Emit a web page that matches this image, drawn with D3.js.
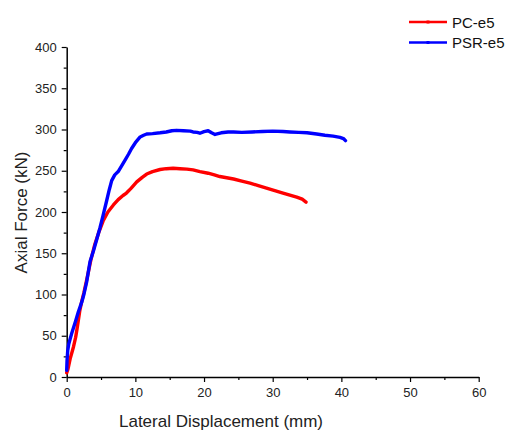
<!DOCTYPE html>
<html>
<head>
<meta charset="utf-8">
<script src="https://cdn.jsdelivr.net/npm/d3@7"></script>
<style>
  html, body { margin: 0; padding: 0; background: #fff; }
  svg { display: block; font-family: "Liberation Sans", Arial, sans-serif; }
</style>
</head>
<body>
<svg id="chart" width="514" height="432"></svg>
<script>
// Series names
const seriesNames = ["PC-e5", "PSR-e5"];
const seriesColors = ["#ff0000", "#0000ff"];

// PC-e5: lateral displacement (mm) and axial force (kN)
const pcX = [0, 0.2, 0.5, 0.8, 1.0, 1.3, 1.5, 1.9, 2.2, 2.5, 3.0, 3.5, 4.1, 4.7, 5.3, 6.0, 6.8, 7.5, 8.2, 8.7, 9.4, 10.2, 11.0, 11.65, 12.5, 13.6, 14.5, 15.5, 16.5, 17.5, 18.4, 19.4, 20.6, 21.5, 22.3, 23.3, 24.3, 25.5, 26.7, 27.9, 29.1, 30.3, 31.5, 32.5, 33.5, 34.3, 34.85];
const pcY = [5, 10, 22, 31, 37, 48, 58, 80, 92, 102, 121, 141, 161, 176, 189, 200, 208.5, 215, 220, 223, 229, 236.5, 242, 246, 249, 251.5, 252.5, 253, 252.5, 252, 251, 249, 247, 245, 243, 241.5, 240, 237.5, 235, 232, 229, 226, 223, 220.5, 218, 215.5, 212];

// PSR-e5: lateral displacement (mm) and axial force (kN)
const psrX = [0, 0.05, 0.15, 0.3, 0.5, 0.7, 1.0, 1.3, 1.7, 2.2, 2.5, 2.9, 3.4, 3.9, 4.35, 4.85, 5.3, 5.8, 6.2, 6.55, 7.0, 7.5, 8.0, 8.5, 9.0, 9.45, 10.0, 10.7, 11.2, 11.65, 12.5, 13.6, 14.5, 15.3, 16.0, 17.0, 18.0, 18.4, 19.0, 19.4, 20.0, 20.6, 21.1, 21.6, 22.5, 23.5, 24.3, 25.5, 27.0, 28.5, 30.0, 31.5, 32.5, 33.8, 35.0, 36.4, 37.6, 38.8, 39.8, 40.3, 40.6];
const psrY = [8, 20, 32, 40, 46, 52, 60, 68, 79, 91, 100, 115, 140, 153, 166, 181, 196, 213, 227, 238, 245, 249, 256, 263, 270, 277, 284, 291, 293, 294.5, 295, 296, 297, 298.5, 299, 298.5, 298, 297, 296.5, 295.5, 297.5, 298.5, 296, 294, 296, 297, 297, 296.5, 297, 297.5, 298, 297.5, 297, 296.5, 296, 294.5, 293, 292, 290.5, 289, 286.5];

// Axis ticks
const xTicks = [0, 10, 20, 30, 40, 50, 60];
const xMinorTicks = [5, 15, 25, 35, 45, 55];
const yTicks = [0, 50, 100, 150, 200, 250, 300, 350, 400];
const yMinorTicks = [25, 75, 125, 175, 225, 275, 325, 375];

const xLabel = "Lateral Displacement (mm)";
const yLabel = "Axial Force (kN)";

const svg = d3.select("#chart");
const x = d3.scaleLinear().domain([0, 60]).range([66.7, 478.7]);
const y = d3.scaleLinear().domain([0, 400]).range([377, 47]);

const textColor = "#222";

// X axis
const gx = svg.append("g").attr("transform", `translate(0,${y(0)})`);
gx.call(d3.axisBottom(x).tickValues(xTicks).tickSize(5).tickPadding(6).tickSizeOuter(0))
  .call(g => g.select(".domain").attr("stroke", "#000").attr("stroke-width", 1.5))
  .call(g => g.selectAll(".tick line").attr("stroke", "#000").attr("stroke-width", 1.2))
  .call(g => g.selectAll(".tick text").attr("font-size", 13).attr("fill", textColor)
    .attr("font-family", "'Liberation Sans', Arial, sans-serif"));
gx.append("g").call(d3.axisBottom(x).tickValues(xMinorTicks).tickSize(3).tickFormat(""))
  .call(g => g.select(".domain").remove())
  .call(g => g.selectAll(".tick line").attr("stroke", "#000").attr("stroke-width", 1.2));

// Y axis
const gy = svg.append("g").attr("transform", `translate(${x(0)},0)`);
gy.call(d3.axisLeft(y).tickValues(yTicks).tickSize(5).tickPadding(5).tickSizeOuter(0))
  .call(g => g.select(".domain").attr("stroke", "#000").attr("stroke-width", 1.5))
  .call(g => g.selectAll(".tick line").attr("stroke", "#000").attr("stroke-width", 1.2))
  .call(g => g.selectAll(".tick text").attr("font-size", 13).attr("fill", textColor)
    .attr("font-family", "'Liberation Sans', Arial, sans-serif"));
gy.append("g").call(d3.axisLeft(y).tickValues(yMinorTicks).tickSize(3).tickFormat(""))
  .call(g => g.select(".domain").remove())
  .call(g => g.selectAll(".tick line").attr("stroke", "#000").attr("stroke-width", 1.2));

// Axis titles
svg.append("text")
  .attr("x", 221)
  .attr("y", 427)
  .attr("text-anchor", "middle")
  .attr("font-size", 17)
  .attr("fill", textColor)
  .text(xLabel);

svg.append("text")
  .attr("transform", `translate(27,212.5) rotate(-90)`)
  .attr("text-anchor", "middle")
  .attr("font-size", 17)
  .attr("fill", textColor)
  .text(yLabel);

// Lines
const line = d3.line().x(d => x(d[0])).y(d => y(d[1]));
const pcData = pcX.map((v, i) => [v, pcY[i]]);
const psrData = psrX.map((v, i) => [v, psrY[i]]);

svg.append("path").datum(pcData)
  .attr("d", line).attr("fill", "none")
  .attr("stroke", seriesColors[0]).attr("stroke-width", 3.4)
  .attr("stroke-linejoin", "round").attr("stroke-linecap", "round");
svg.append("path").datum(psrData)
  .attr("d", line).attr("fill", "none")
  .attr("stroke", seriesColors[1]).attr("stroke-width", 3.4)
  .attr("stroke-linejoin", "round").attr("stroke-linecap", "round");

// Legend
const legend = svg.append("g");
seriesNames.forEach((name, i) => {
  const ly = 22 + i * 20.5;
  legend.append("line").attr("x1", 409).attr("x2", 447).attr("y1", ly).attr("y2", ly)
    .attr("stroke", seriesColors[i]).attr("stroke-width", 2.5);
  legend.append("rect").attr("x", 426.5).attr("y", ly - 1.5).attr("width", 3).attr("height", 3)
    .attr("fill", seriesColors[i]);
  legend.append("text").attr("x", 452).attr("y", ly + 5.5)
    .attr("font-size", 15).attr("fill", "#111").text(name);
});
</script>
</body>
</html>
